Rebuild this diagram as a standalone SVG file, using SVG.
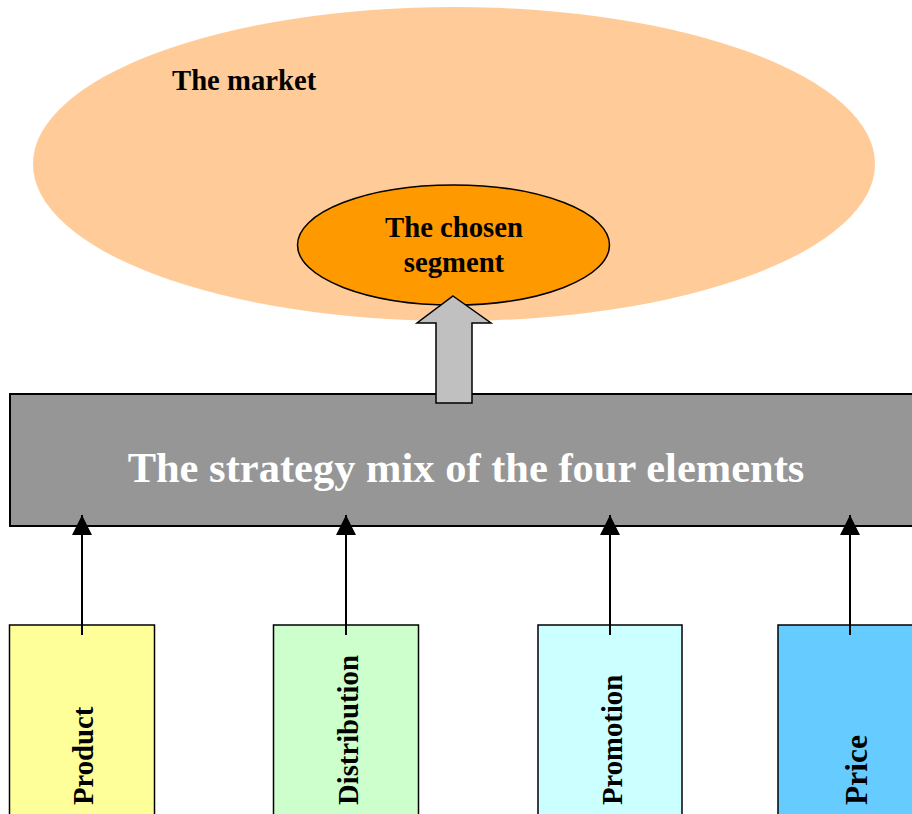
<svg xmlns="http://www.w3.org/2000/svg" width="912" height="814" viewBox="0 0 912 814">
<style>
text{font-family:"Liberation Serif","Times New Roman",serif;font-weight:bold;}
.lbl{font-size:28.7px;fill:#000;}
.box{stroke:#000;stroke-width:1.5;}
.conn{stroke:#000;stroke-width:2;fill:none;}
</style>
<defs>
<marker id="ah" viewBox="0 0 20 20" refX="20" refY="10" markerWidth="20" markerHeight="20" markerUnits="userSpaceOnUse" orient="auto">
<path d="M0,0 L20,10 L0,20 Z" fill="#000"/>
</marker>
</defs>
<g id="market">
<ellipse cx="454" cy="164" rx="421" ry="157" fill="#FFCC99"/>
<text class="lbl" x="172" y="90">The market</text>
</g>
<g id="segment">
<ellipse cx="453.5" cy="245" rx="156" ry="60" fill="#FF9900" stroke="#000" stroke-width="1.5"/>
<text class="lbl" x="454" y="237" text-anchor="middle">The chosen</text>
<text class="lbl" x="454" y="272" text-anchor="middle">segment</text>
</g>
<g id="mix">
<rect x="10" y="394" width="920" height="132" fill="#969696" stroke="#000" stroke-width="2"/>
<text x="466" y="482" text-anchor="middle" font-size="42.5" fill="#fff">The strategy mix of the four elements</text>
</g>
<g id="product">
<rect class="box" x="9.5" y="625" width="145" height="200" fill="#FFFF99"/>
<text class="lbl" transform="translate(93,805) rotate(-90)">Product</text>
</g>
<g id="distribution">
<rect class="box" x="273.5" y="625" width="145" height="200" fill="#CCFFCC"/>
<text class="lbl" transform="translate(358,805) rotate(-90)">Distribution</text>
</g>
<g id="promotion">
<rect class="box" x="538" y="625" width="144" height="200" fill="#CCFFFF"/>
<text class="lbl" transform="translate(622,805) rotate(-90)">Promotion</text>
</g>
<g id="price">
<rect class="box" x="778" y="625" width="150" height="200" fill="#66CCFF"/>
<text class="lbl" style="font-size:31.5px" transform="translate(867,805) rotate(-90)">Price</text>
</g>
<g id="connectors">
<path d="M453,296 L491,323 L472,323 L472,403 L436,403 L436,323 L417,323 Z" fill="#C0C0C0" stroke="#000" stroke-width="1.5"/>
<line class="conn" x1="82" y1="635" x2="82" y2="515" marker-end="url(#ah)"/>
<line class="conn" x1="346" y1="635" x2="346" y2="515" marker-end="url(#ah)"/>
<line class="conn" x1="610" y1="635" x2="610" y2="515" marker-end="url(#ah)"/>
<line class="conn" x1="850" y1="635" x2="850" y2="515" marker-end="url(#ah)"/>
</g>
</svg>
